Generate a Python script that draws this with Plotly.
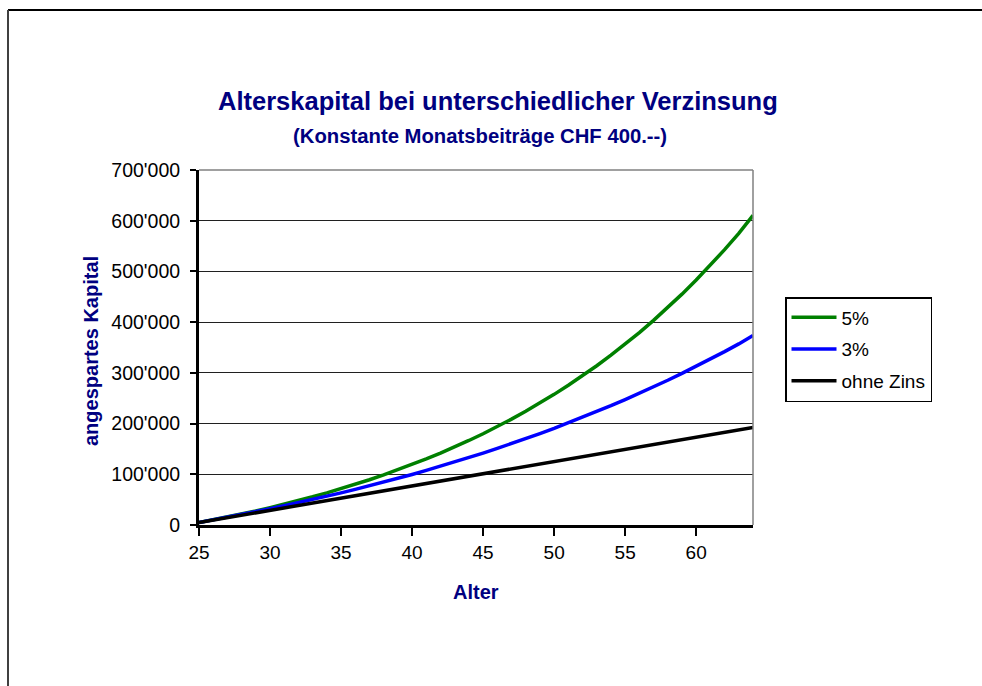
import plotly.graph_objects as go

# Data
alter = list(range(25, 65))
kapital_5 = [5000, 10300, 15900, 21700, 27800, 34300, 41000, 48100, 55600, 63400,
             71600, 80200, 89300, 98800, 108800, 119200, 130200, 141800, 153900, 166700,
             180000, 194100, 208800, 224300, 240500, 257600, 275500, 294300, 314100, 334900,
             356600, 379500, 403500, 428700, 455200, 483000, 512200, 542900, 575000, 610500]
kapital_3 = [4900, 10000, 15300, 20700, 26200, 32000, 37900, 44000, 50200, 56700,
             63300, 70200, 77200, 84500, 92000, 99700, 107600, 115800, 124200, 132800,
             141800, 151000, 160400, 170200, 180300, 190600, 201300, 212300, 223600, 235200,
             247200, 259600, 272300, 285400, 298900, 312800, 327200, 341900, 357100, 373500]
kapital_0 = [4800, 9600, 14400, 19200, 24000, 28800, 33600, 38400, 43200, 48000,
             52800, 57600, 62400, 67200, 72000, 76800, 81600, 86400, 91200, 96000,
             100800, 105600, 110400, 115200, 120000, 124800, 129600, 134400, 139200, 144000,
             148800, 153600, 158400, 163200, 168000, 172800, 177600, 182400, 187200, 192500]

series_names = ["5%", "3%", "ohne Zins"]
series_colors = ["#008000", "#0000FF", "#000000"]
x_ticks = [25, 30, 35, 40, 45, 50, 55, 60]
y_ticks = [0, 100000, 200000, 300000, 400000, 500000, 600000, 700000]
y_ticktext = ["0", "100'000", "200'000", "300'000", "400'000", "500'000", "600'000", "700'000"]

FONT = "Liberation Sans, Arial, sans-serif"
NAVY = "#000080"

fig = go.Figure()
for i, (name, vals, col) in enumerate(zip(series_names, [kapital_5, kapital_3, kapital_0], series_colors)):
    fig.add_trace(go.Scatter(x=alter, y=vals, name=name, mode="lines",
                             line=dict(color=col, width=3.5), legendgroup=f"g{i}"))

W, H = 982, 686
L, R, T, B = 199, 753, 170, 525
pw, ph = R - L, B - T

def px(x):
    return (x - L) / pw

def py(y):
    return (B - y) / ph

fig.update_layout(
    width=W, height=H,
    margin=dict(l=L, r=W - R, t=T, b=H - B, pad=0),
    paper_bgcolor="white", plot_bgcolor="white",
    font=dict(family=FONT, size=19, color="black"),
    showlegend=True,
    legend=dict(x=px(785), y=py(297), xanchor="left", yanchor="top",
                bordercolor="black", borderwidth=1.5, bgcolor="white",
                font=dict(family=FONT, size=19, color="black"),
                tracegroupgap=4, itemwidth=45, traceorder="grouped"),
    xaxis=dict(range=[25, 64], tickvals=x_ticks, ticks="outside", ticklen=8, tickwidth=2,
               tickcolor="black", showline=True, linecolor="black", linewidth=3,
               showgrid=False, zeroline=False, tickfont=dict(size=19)),
    yaxis=dict(range=[0, 700000], tickvals=y_ticks, ticktext=y_ticktext, ticks="outside",
               ticklen=6, tickwidth=2, tickcolor="black", showline=True, linecolor="black",
               linewidth=3, showgrid=True, gridcolor="#202020", gridwidth=1, zeroline=False,
               tickfont=dict(size=19.5), ticklabelstandoff=6),
    annotations=[
        dict(text="<b>Alterskapital bei unterschiedlicher Verzinsung</b>", x=px(498), y=py(101),
             xref="paper", yref="paper", showarrow=False, xanchor="center", yanchor="middle",
             font=dict(family=FONT, size=25.5, color=NAVY)),
        dict(text="<b>(Konstante Monatsbeiträge CHF 400.--)</b>", x=px(480), y=py(136),
             xref="paper", yref="paper", showarrow=False, xanchor="center", yanchor="middle",
             font=dict(family=FONT, size=20.3, color=NAVY)),
        dict(text="<b>angespartes Kapital</b>", x=px(91), y=py(351), textangle=-90,
             xref="paper", yref="paper", showarrow=False, xanchor="center", yanchor="middle",
             font=dict(family=FONT, size=20, color=NAVY)),
        dict(text="<b>Alter</b>", x=px(476), y=py(592),
             xref="paper", yref="paper", showarrow=False, xanchor="center", yanchor="middle",
             font=dict(family=FONT, size=20, color=NAVY)),
    ],
    shapes=[
        # gray plot-area border top and right
        dict(type="line", xref="paper", yref="paper", x0=0, x1=1, y0=1, y1=1,
             line=dict(color="#808080", width=1.5), layer="above"),
        dict(type="line", xref="paper", yref="paper", x0=1, x1=1, y0=0, y1=1,
             line=dict(color="#808080", width=1.5), layer="above"),
        # outer chart frame
        dict(type="line", xref="paper", yref="paper", x0=px(8), x1=px(982), y0=py(10), y1=py(10),
             line=dict(color="black", width=2)),
        dict(type="line", xref="paper", yref="paper", x0=px(8), x1=px(8), y0=py(10), y1=py(686),
             line=dict(color="#404040", width=2)),
    ],
)

fig.write_html("out.html", config={"displayModeBar": False},
               post_script=("document.body.style.margin='0';"
                            "document.body.style.overflow='hidden';"
                            "document.documentElement.style.overflow='hidden';"))
